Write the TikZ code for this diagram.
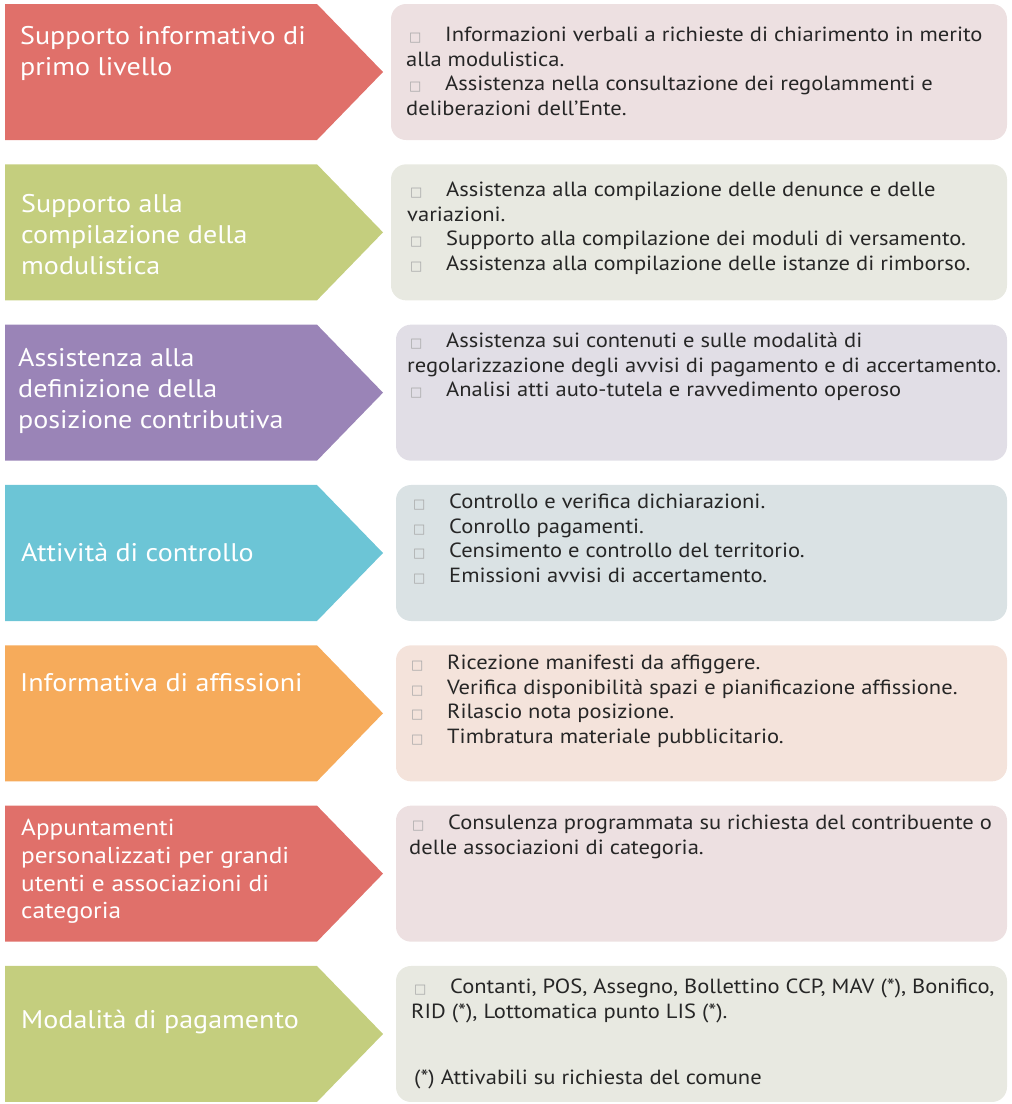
\documentclass[tikz,border=0pt]{standalone}
\usepackage{fontspec}
\setmainfont[FakeStretch=1.1]{PT Sans}
\newfontfamily\symfont{DejaVu Sans}
\usetikzlibrary{positioning}

\definecolor{redA}{HTML}{E0706A}
\definecolor{greenA}{HTML}{C4CE7E}
\definecolor{purpleA}{HTML}{9A84B7}
\definecolor{cyanA}{HTML}{6CC5D6}
\definecolor{orangeA}{HTML}{F6AB5B}
\definecolor{redL}{HTML}{EDE0E1}
\definecolor{greenL}{HTML}{E8E9E1}
\definecolor{purpleL}{HTML}{E1DEE6}
\definecolor{cyanL}{HTML}{DAE2E4}
\definecolor{orangeL}{HTML}{F4E3DB}
\definecolor{bulgray}{HTML}{A8A8A8}
\definecolor{txtgray}{HTML}{262626}

\newcommand\itm{\makebox[39pt][l]{\hspace{3pt}{\symfont\fontsize{13}{13}\selectfont\color{bulgray}□}}}

\tikzset{
  arrowsh/.style={draw=none},
  boxsh/.style={draw=none, rounded corners=15pt},
  lab/.style={anchor=west, inner sep=0pt, align=left, text=white,
    font=\fontsize{25.5}{31}\selectfont},
  labsmall/.style={lab, font=\fontsize{23}{27.7}\selectfont},
  txt/.style={anchor=north west, inner sep=0pt, align=left, text=txtgray,
    font=\fontsize{20.5}{24.5}\selectfont}
}

\begin{document}
\begin{tikzpicture}[x=1pt, y=-1pt]

  \newcommand\Y{160.33}

  \useasboundingbox (0,0) rectangle (1012,1104);

  %% arrows
  \draw[arrowsh, fill=redA]    (5, 4+0*\Y) -- (317, 4+0*\Y) -- (383, 72+0*\Y) -- (317, 140+0*\Y) -- (5, 140+0*\Y) -- cycle;
  \draw[arrowsh, fill=greenA]  (5, 4+1*\Y) -- (317, 4+1*\Y) -- (383, 72+1*\Y) -- (317, 140+1*\Y) -- (5, 140+1*\Y) -- cycle;
  \draw[arrowsh, fill=purpleA] (5, 4+2*\Y) -- (317, 4+2*\Y) -- (383, 72+2*\Y) -- (317, 140+2*\Y) -- (5, 140+2*\Y) -- cycle;
  \draw[arrowsh, fill=cyanA]   (5, 4+3*\Y) -- (317, 4+3*\Y) -- (383, 72+3*\Y) -- (317, 140+3*\Y) -- (5, 140+3*\Y) -- cycle;
  \draw[arrowsh, fill=orangeA] (5, 4+4*\Y) -- (317, 4+4*\Y) -- (383, 72+4*\Y) -- (317, 140+4*\Y) -- (5, 140+4*\Y) -- cycle;
  \draw[arrowsh, fill=redA]    (5, 4+5*\Y) -- (317, 4+5*\Y) -- (383, 72+5*\Y) -- (317, 140+5*\Y) -- (5, 140+5*\Y) -- cycle;
  \draw[arrowsh, fill=greenA]  (5, 4+6*\Y) -- (317, 4+6*\Y) -- (383, 72+6*\Y) -- (317, 140+6*\Y) -- (5, 140+6*\Y) -- cycle;

  %% boxes
  \draw[boxsh, fill=redL]    (391, 4+0*\Y) rectangle (1007, 140+0*\Y);
  \draw[boxsh, fill=greenL]  (391, 4+1*\Y) rectangle (1007, 140+1*\Y);
  \draw[boxsh, fill=purpleL] (396, 4+2*\Y) rectangle (1007, 140+2*\Y);
  \draw[boxsh, fill=cyanL]   (396, 4+3*\Y) rectangle (1007, 140+3*\Y);
  \draw[boxsh, fill=orangeL] (396, 4+4*\Y) rectangle (1007, 140+4*\Y);
  \draw[boxsh, fill=redL]    (396, 4+5*\Y) rectangle (1007, 140+5*\Y);
  \draw[boxsh, fill=greenL]  (396, 4+6*\Y) rectangle (1007, 140+6*\Y);

  %% labels
  \node[lab] (supporto) at (20, 53.5) {Supporto informativo di\\primo livello};
  \node[lab] (compil) at (21, 234.5) {Supporto alla\\compilazione della\\modulistica};
  \node[lab] (posiz) at (18, 391) {Assistenza alla\\definizione della\\posizione contributiva};
  \node[lab] (controllo) at (21, 552) {Attività di controllo};
  \node[lab] (affiss) at (20, 683) {Informativa di affissioni};
  \node[labsmall] (appunt) at (21, 871.5) {Appuntamenti\\personalizzati per grandi\\utenti e associazioni di\\categoria};
  \node[lab] (pagam) at (21, 1022) {Modalità di pagamento};

  %% box texts
  \node[txt] (t-supporto) at (406, 27) {\itm Informazioni verbali a richieste di chiarimento in merito\\alla modulistica.\\\itm Assistenza nella consultazione dei regolammenti e\\deliberazioni dell’Ente.};
  \node[txt] (t-compil) at (407, 182) {\itm Assistenza alla compilazione delle denunce e delle\\variazioni.\\\itm Supporto alla compilazione dei moduli di versamento.\\\itm Assistenza alla compilazione delle istanze di rimborso.};
  \node[txt] (t-posiz) at (407, 333) {\itm Assistenza sui contenuti e sulle modalità di\\regolarizzazione degli avvisi di pagamento e di accertamento.\\\itm Analisi atti auto-tutela e ravvedimento operoso};
  \node[txt] (t-controllo) at (410, 494) {\itm Controllo e verifica dichiarazioni.\\\itm Conrollo pagamenti.\\\itm Censimento e controllo del territorio.\\\itm Emissioni avvisi di accertamento.};
  \node[txt] (t-affiss) at (408, 655) {\itm Ricezione manifesti da affiggere.\\\itm Verifica disponibilità spazi e pianificazione affissione.\\\itm Rilascio nota posizione.\\\itm Timbratura materiale pubblicitario.};
  \node[txt] (t-appunt) at (409, 815) {\itm Consulenza programmata su richiesta del contribuente o\\delle associazioni di categoria.};
  \node[txt] (t-pagam) at (411, 979) {\itm Contanti, POS, Assegno, Bollettino CCP, MAV (*), Bonifico,\\RID (*), Lottomatica punto LIS (*).\\[42pt]\hspace{3pt}(*) Attivabili su richiesta del comune};

\end{tikzpicture}
\end{document}
